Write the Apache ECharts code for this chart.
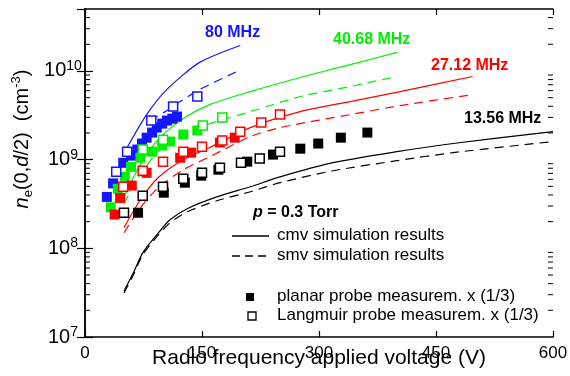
<html>
<head>
<meta charset="utf-8">
<title>ne(0,d/2) vs RF voltage</title>
<script src="https://cdn.jsdelivr.net/npm/echarts@6/dist/echarts.min.js"></script>
<style>
	body { margin: 0; background: #fff; }
</style>
</head>
<body>
	<div id="main" style="width: 570px; height: 376px;"></div>
	<script type="text/javascript">
		// 读图得到的数据 [电压(V), 电子密度(cm^-3)]
		// 80 MHz
		var planar80 = [[28,3.8e8],[36,5.4e8],[49,9.2e8],[59,1.11e9],[67,1.30e9],[73,1.52e9],[79,1.77e9],[86,2.02e9],[92,2.30e9],[99,2.55e9],[105,2.76e9],[112,2.90e9],[118,3.06e9]];
		var langmuir80 = [[40,7.3e8],[54,1.23e9],[85,2.76e9],[113,3.97e9],[144,5.15e9]];
		var cmv80 = [[54,1.37e9],[79,3.22e9],[105,6.2e9],[147,1.25e10],[199,1.94e10]];
		var smv80 = [[83,2.76e9],[103,3.48e9],[122,4.52e9],[147,6.18e9],[195,9.87e9]];
		// 40.68 MHz
		var planar40 = [[33,2.9e8],[42,4.7e8],[51,6.4e8],[59,8.3e8],[71,1.05e9],[86,1.23e9],[99,1.44e9],[109,1.60e9],[126,1.92e9],[144,2.13e9]];
		var langmuir40 = [[74,1.30e9],[100,1.68e9],[151,2.42e9],[176,2.99e9]];
		var cmv40 = [[50,3.8e8],[71,8.8e8],[96,1.77e9],[128,2.99e9],[160,4.18e9],[212,5.86e9],[276,8.45e9],[340,1.18e10],[400,1.62e10]];
		var smv40 = [[50,3.2e8],[71,6.8e8],[96,1.30e9],[128,2.02e9],[160,2.55e9],[212,3.48e9],[276,5.15e9],[340,6.68e9],[394,8.45e9]];
		// 27.12 MHz
		var planar27 = [[38,2.4e8],[45,3.7e8],[60,5.1e8],[79,7.1e8],[122,1.05e9],[136,1.20e9],[173,1.56e9],[192,1.77e9]];
		var langmuir27 = [[49,4.95e8],[74,7.5e8],[100,9.5e8],[126,1.23e9],[150,1.40e9],[176,1.64e9],[199,2.07e9],[226,2.62e9],[250,3.22e9]];
		var cmv27 = [[50,1.71e8],[71,3.53e8],[94,6.3e8],[126,1.0e9],[160,1.37e9],[212,2.30e9],[276,3.48e9],[340,4.52e9],[404,5.86e9],[497,8.67e9]];
		var smv27 = [[50,1.50e8],[71,2.87e8],[94,4.83e8],[126,7.7e8],[160,1.08e9],[212,1.82e9],[250,2.30e9],[340,3.22e9],[404,4.07e9],[497,5.42e9]];
		// 13.56 MHz
		var planar13 = [[68,2.52e8],[101,4.24e8],[128,5.5e8],[149,6.6e8],[171,7.7e8],[208,9.5e8],[241,1.14e9],[276,1.33e9],[299,1.52e9],[328,1.77e9],[362,2.02e9]];
		var langmuir13 = [[50,2.52e8],[74,3.92e8],[100,4.95e8],[126,6.1e8],[150,7.1e8],[173,8.1e8],[200,9.25e8],[224,1.03e9],[250,1.23e9]];
		var cmv13 = [[50,3.3e7],[62,5.3e7],[74,8.9e7],[92,1.42e8],[109,2.10e8],[131,2.80e8],[169,3.8e8],[212,4.95e8],[250,6.4e8],[318,9.25e8],[400,1.23e9],[472,1.52e9],[600,2.07e9]];
		var smv13 = [[50,3.14e7],[62,5.02e7],[74,8.45e7],[92,1.35e8],[109,1.94e8],[131,2.58e8],[169,3.44e8],[212,4.35e8],[250,5.5e8],[318,7.5e8],[400,9.75e8],[472,1.20e9],[600,1.60e9]];

		// 坐标轴范围
		var xTicks = [0, 150, 300, 450, 600];
		var yMin = 1e7, yMax = 5e10;

		// 对数轴的次刻度 2..9 x 10^n
		var minorTicks = [];
		for (var e = 7; e <= 10; e++) {
			for (var m = 2; m <= 9; m++) {
				var v = m * Math.pow(10, e);
				if (v < yMax) minorTicks.push(v);
			}
		}

		var BLUE = '#1515ff', GREEN = '#00ee00', RED = '#ff0000', BLACK = '#000000';
		var FONT = 'Arial, "Liberation Sans", sans-serif';

		function lineSeries(data, color, dashed) {
			return {
				type: 'line', data: data, symbol: 'none', smooth: 0.25,
				lineStyle: { color: color, width: 1.2, type: dashed ? [9, 6] : 'solid' },
				z: 2, silent: true
			};
		}
		function filledSeries(data, color) {
			return {
				type: 'scatter', data: data, symbol: 'rect', symbolSize: 10,
				itemStyle: { color: color, opacity: 1 }, z: 3, silent: true
			};
		}
		function openSeries(data, color) {
			return {
				type: 'scatter', data: data, symbol: 'rect', symbolSize: 9,
				itemStyle: { color: '#fff', borderColor: color, borderWidth: 1.5, opacity: 1 }, z: 4, silent: true
			};
		}

		var myChart = echarts.init(document.getElementById('main'));

		myChart.setOption({
			animation: false,
			backgroundColor: '#fff',
			grid: { left: 85, right: 17, top: 9, bottom: 39, outerBoundsMode: 'none' },
			xAxis: [{
				type: 'value', min: xTicks[0], max: xTicks[xTicks.length - 1], interval: 150,
				name: 'Radio frequency applied voltage (V)', nameLocation: 'middle', nameGap: 11,
				nameMoveOverlap: false,
				nameTextStyle: { fontSize: 21, color: '#000', fontFamily: FONT },
				axisLine: { lineStyle: { color: '#000', width: 1.5 } },
				axisTick: { inside: true, length: 6, lineStyle: { color: '#000', width: 1.2 } },
				axisLabel: { fontSize: 17, color: '#000', fontFamily: FONT, margin: 8 },
				splitLine: { show: false }
			}, {
				type: 'value', position: 'top', min: xTicks[0], max: xTicks[xTicks.length - 1], interval: 150,
				axisLine: { lineStyle: { color: '#000', width: 1.5 } },
				axisTick: { inside: true, length: 6, lineStyle: { color: '#000', width: 1.2 } },
				axisLabel: { show: false }, splitLine: { show: false }
			}],
			yAxis: [{
				type: 'log', logBase: 10, min: yMin, max: yMax,
				name: '{i|n}{sub|e}{t|(0,}{i|d}{t|/2)  (cm}{sup|-3}{t|)}',
				nameLocation: 'middle', nameGap: 50, nameRotate: 90, nameMoveOverlap: false,
				nameTextStyle: {
					fontSize: 20, color: '#000', fontFamily: FONT, padding: [0, 0, 0, 68],
					rich: {
						i: { fontSize: 20, fontStyle: 'italic', fontFamily: FONT },
						t: { fontSize: 20, fontFamily: FONT },
						sub: { fontSize: 13, fontFamily: FONT, padding: [12, 0, 0, 0] },
						sup: { fontSize: 13, fontFamily: FONT, padding: [0, 0, 12, 0] }
					}
				},
				axisLine: { show: true, lineStyle: { color: '#000', width: 1.5 } },
				axisTick: { inside: true, length: 8, lineStyle: { color: '#000', width: 1.2 } },
				axisLabel: {
					align: 'center', margin: 22, showMaxLabel: false,
					formatter: function (v) {
						var p = Math.round(Math.log(v) / Math.LN10);
						if (Math.abs(v - Math.pow(10, p)) > 1e-3 * v) return '';
						return '{b|10}{s|' + p + '}';
					},
					rich: {
						b: { fontSize: 20, color: '#000', fontFamily: FONT },
						s: { fontSize: 14, color: '#000', fontFamily: FONT, padding: [0, 0, 10, 0] }
					}
				},
				splitLine: { show: false }
			}, {
				type: 'log', logBase: 10, min: yMin, max: yMax, position: 'right',
				axisLine: { show: true, lineStyle: { color: '#000', width: 1.5 } },
				axisTick: { inside: true, length: 8, lineStyle: { color: '#000', width: 1.2 } },
				axisLabel: { show: false }, splitLine: { show: false }
			}],
			graphic: [
				{ type: 'text', left: 205, top: 25, style: { text: '80 MHz', fill: BLUE, font: 'bold 16px ' + FONT } },
				{ type: 'text', left: 333, top: 32, style: { text: '40.68 MHz', fill: GREEN, font: 'bold 16px ' + FONT } },
				{ type: 'text', left: 431, top: 58, style: { text: '27.12 MHz', fill: RED, font: 'bold 16px ' + FONT } },
				{ type: 'text', left: 464, top: 111, style: { text: '13.56 MHz', fill: BLACK, font: 'bold 16px ' + FONT } },
				{ type: 'text', left: 253, top: 205, style: {
					text: '{i|p} = 0.3 Torr', fill: BLACK, font: 'bold 16px ' + FONT,
					rich: { i: { fontStyle: 'italic', fontWeight: 'bold', fontSize: 16, fontFamily: FONT } }
				} },
				{ type: 'line', shape: { x1: 232, y1: 236, x2: 269, y2: 236 }, style: { stroke: BLACK, lineWidth: 1.3 } },
				{ type: 'text', left: 277, top: 227, style: { text: 'cmv simulation results', fill: BLACK, font: '17px ' + FONT } },
				{ type: 'line', shape: { x1: 232, y1: 256, x2: 269, y2: 256 }, style: { stroke: BLACK, lineWidth: 1.3, lineDash: [8, 5] } },
				{ type: 'text', left: 277, top: 247, style: { text: 'smv simulation results', fill: BLACK, font: '17px ' + FONT } },
				{ type: 'rect', shape: { x: 246, y: 293, width: 8, height: 8 }, style: { fill: BLACK } },
				{ type: 'text', left: 277, top: 288, style: { text: 'planar probe measurem. x (1/3)', fill: BLACK, font: '17px ' + FONT } },
				{ type: 'rect', shape: { x: 248, y: 312, width: 8, height: 8 }, style: { fill: '#fff', stroke: BLACK, lineWidth: 1.3 } },
				{ type: 'text', left: 277, top: 307, style: { text: 'Langmuir probe measurem. x (1/3)', fill: BLACK, font: '17px ' + FONT } }
			],
			series: [
				lineSeries(cmv80, BLUE, false), lineSeries(smv80, BLUE, true),
				lineSeries(cmv40, GREEN, false), lineSeries(smv40, GREEN, true),
				lineSeries(cmv27, RED, false), lineSeries(smv27, RED, true),
				lineSeries(cmv13, BLACK, false), lineSeries(smv13, BLACK, true),
				filledSeries(planar80, BLUE), openSeries(langmuir80, BLUE),
				filledSeries(planar40, GREEN), openSeries(langmuir40, GREEN),
				filledSeries(planar27, RED), openSeries(langmuir27, RED),
				filledSeries(planar13, BLACK), openSeries(langmuir13, BLACK),
				{
					// 次刻度（左右两侧）
					type: 'custom', silent: true, z: 5, clip: false,
					data: minorTicks.map(function (v) { return [0, v]; }),
					renderItem: function (params, api) {
						var l = api.coord([xTicks[0], api.value(1)]);
						var r = api.coord([xTicks[xTicks.length - 1], api.value(1)]);
						var st = { stroke: '#000', lineWidth: 1 };
						return { type: 'group', children: [
							{ type: 'line', shape: { x1: l[0], y1: l[1], x2: l[0] + 5, y2: l[1] }, style: st },
							{ type: 'line', shape: { x1: r[0], y1: r[1], x2: r[0] - 5, y2: r[1] }, style: st }
						] };
					}
				}
			]
		});
	</script>
</body>
</html>
